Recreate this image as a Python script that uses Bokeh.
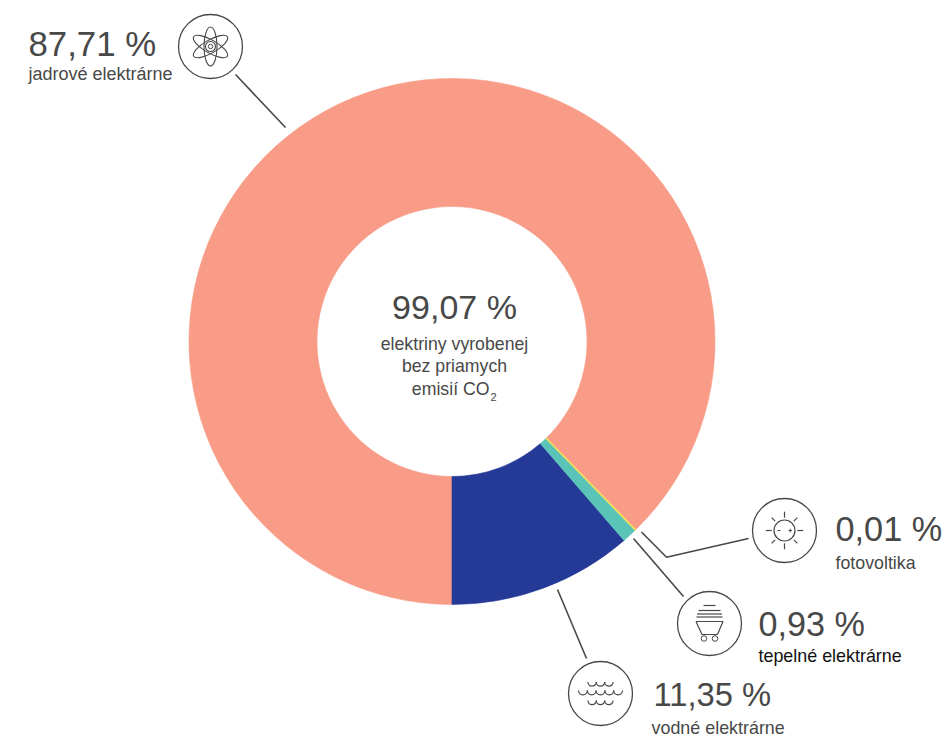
import math
from bokeh.plotting import figure
from bokeh.models import Range1d, ColumnDataSource
from bokeh.core.properties import value
from bokeh.embed import file_html
from bokeh.resources import INLINE

# ---- data ----
categories = ["vodné elektrárne", "tepelné elektrárne", "fotovoltika", "jadrové elektrárne"]
shares = [11.35, 0.93, 0.01, 87.71]
share_labels = ["11,35 %", "0,93 %", "0,01 %", "87,71 %"]
total_label = "99,07 %"
centre_lines = ["elektriny vyrobenej", "bez priamych", "emisií CO"]
slice_colors = ["#253A97", "#5BC4B8", "#F5E05A", "#F99C87"]

INK = "#484848"
FONT = value("Liberation Sans")
W, H = 945, 738


def Y(py):
    return 738 - py


p = figure(width=W, height=H, output_backend="svg", toolbar_location=None,
           x_range=Range1d(0, 945), y_range=Range1d(0, 738), min_border=0,
           outline_line_color=None, background_fill_color="white",
           border_fill_color="white")
p.axis.visible = False
p.grid.visible = False

# ---- donut ----
CX, CY, R_OUT, R_IN = 451.5, 341, 263, 135
starts, ends, c = [], [], 0.0
for s in shares:
    starts.append(-math.pi / 2 + c / 100 * 2 * math.pi)
    c += s
    ends.append(-math.pi / 2 + c / 100 * 2 * math.pi)
src = ColumnDataSource(dict(x=[CX] * 4, y=[Y(CY)] * 4, start=starts, end=ends,
                            color=slice_colors, name=categories))
order = [3, 0, 1, 2]
src = ColumnDataSource({k: [v[i] for i in order] for k, v in src.data.items()})
src.data["lw"] = [0.6, 0.6, 0.6, 1.6]
p.annular_wedge(x="x", y="y", inner_radius=R_IN, outer_radius=R_OUT,
                start_angle="start", end_angle="end", fill_color="color",
                line_color="color", line_width="lw", source=src)


def txt(x, y, s, size, color=INK, align="left"):
    # y is the wanted baseline; the renderer sets this baseline about 0.35 em low
    p.text([x], [Y(y - 0.35 * size)], text=[s], text_font=FONT, text_font_size=f"{size}px",
           text_color=color, text_align=align, text_baseline="alphabetic")


# ---- leaders ----
leaders = [
    [(235, 74), (285, 127)],
    [(641, 531.5), (666, 556.7), (748, 538)],
    [(633, 538), (683, 596)],
    [(557, 589), (586, 658)],
]
for pts in leaders:
    p.line([a for a, _ in pts], [Y(b) for _, b in pts], line_color=INK, line_width=1.6)

# ---- icon rings ----
ICON_R = 32
icons = {"atom": (210, 46), "sun": (784, 530), "coal": (709, 623), "water": (600, 693)}
for cx, cy in icons.values():
    p.circle([cx], [Y(cy)], radius=ICON_R, fill_color="white", line_color=INK, line_width=1.3)


def seg(x0, y0, x1, y1, w=1.2):
    p.line([x0, x1], [Y(y0), Y(y1)], line_color=INK, line_width=w)


# atom
ax, ay = icons["atom"]
for ang in (90, 30, -30):
    p.ellipse([ax], [Y(ay)], width=39, height=13, angle=math.radians(ang),
              fill_alpha=0, line_color=INK, line_width=1.1)
p.circle([ax], [Y(ay)], radius=5, fill_alpha=0, line_color=INK, line_width=1.1)
p.circle([ax], [Y(ay)], radius=2.2, fill_alpha=0, line_color=INK, line_width=1.0)

# sun
sx, sy = icons["sun"]
p.circle([sx], [Y(sy)], radius=10.5, fill_alpha=0, line_color=INK, line_width=1.2)
for k in range(8):
    t = k * math.pi / 4
    r0, r1 = (12.8, 18.8) if k % 2 == 0 else (13.2, 18.2)
    seg(sx + r0 * math.cos(t), sy + r0 * math.sin(t), sx + r1 * math.cos(t), sy + r1 * math.sin(t))
seg(sx - 7, sy, sx - 4, sy, 1.0)
seg(sx + 4, sy, sx + 7.5, sy, 1.0)
seg(sx + 5.7, sy - 1.8, sx + 5.7, sy + 1.8, 1.0)

# coal cart
kx, ky = icons["coal"]
seg(kx - 6, ky - 18, kx + 6, ky - 18)
seg(kx - 11, ky - 13, kx + 11, ky - 13)
seg(kx - 12.5, ky - 9.5, kx + 12.5, ky - 9.5)
seg(kx - 13, ky - 6.5, kx + 13, ky - 6.5)
p.line([kx - 13.5, kx + 13.5, kx + 8, kx - 7.5, kx - 13.5],
       [Y(ky - 2), Y(ky - 2), Y(ky + 11), Y(ky + 11), Y(ky - 2)],
       line_color=INK, line_width=1.2)
for dx in (-5.5, 5.5):
    p.circle([kx + dx], [Y(ky + 15)], radius=2.8, fill_alpha=0, line_color=INK, line_width=1.0)

# water
wx, wy = icons["water"]
for dy, n, step in ((-11.5, 3, 8.4), (-3, 5, 8.8), (7, 3, 8.4)):
    for i in range(n):
        ox = wx + (i - (n - 1) / 2) * step
        p.arc([ox], [Y(wy + dy)], radius=step / 2, start_angle=math.radians(180),
              end_angle=math.radians(360), line_color=INK, line_width=1.2)

# ---- texts ----
txt(28, 55, share_labels[3], 34.8)
txt(28, 80, categories[3], 18)
txt(835, 541, share_labels[2], 34.3)
txt(835, 569, categories[2], 17.8)
txt(758, 635, share_labels[1], 34.2)
txt(758, 662, categories[1], 17.9, color="#111111")
txt(653, 705, share_labels[0], 32.7)
txt(651, 734, categories[0], 17.9)

txt(454, 318, total_label, 34, align="center")
txt(454, 350, centre_lines[0], 17.7, align="center")
txt(454, 372, centre_lines[1], 17.7, align="center")
txt(489, 395, centre_lines[2], 17.7, align="right")
txt(490, 400, "2", 11)

open("out.html", "w").write(file_html(p, INLINE))
